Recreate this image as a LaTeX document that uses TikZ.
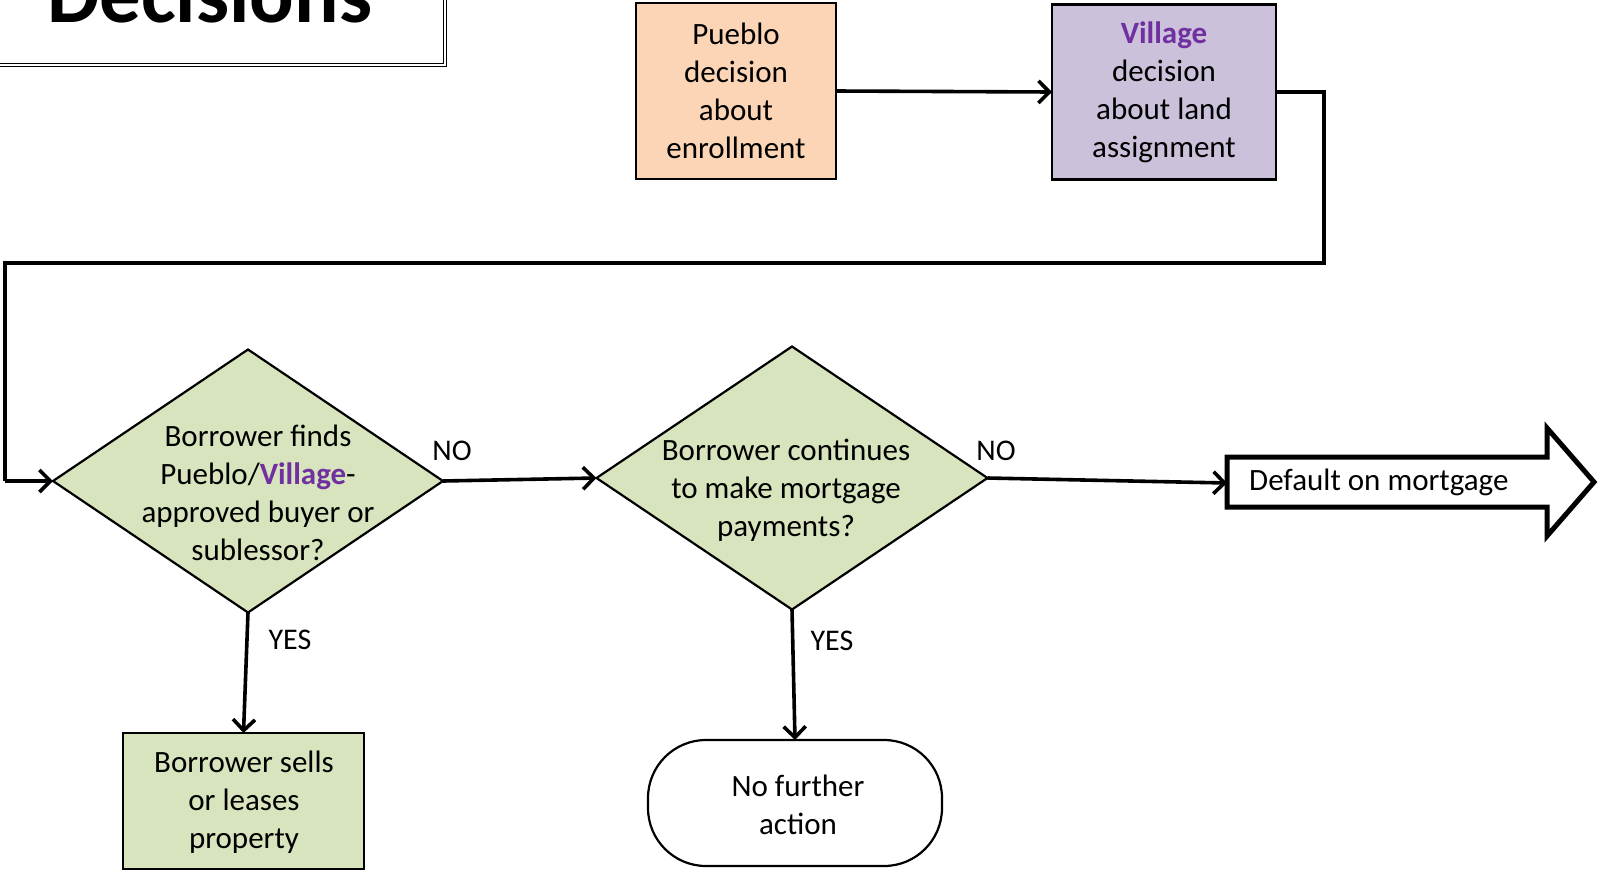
\documentclass[tikz,border=0pt]{standalone}
\usepackage{fontspec}
\setmainfont{Carlito}
\usetikzlibrary{arrows.meta,shapes.geometric}
\definecolor{peach}{HTML}{FBD5B5}
\definecolor{lav}{HTML}{CCC1DA}
\definecolor{lgreen}{HTML}{D7E4BD}
\definecolor{vpurple}{HTML}{7030A0}
\newcommand{\vil}{\textcolor{vpurple}{\textbf{Village}}}
\begin{document}
\begin{tikzpicture}[x=1pt,y=-1pt,
  txt/.style={font=\fontsize{31}{38}\selectfont, align=center, inner sep=0pt},
  lbl/.style={font=\fontsize{30}{36}\selectfont, inner sep=0pt},
  boxnode/.style={draw=black, line width=2.2pt, inner sep=0pt, outer sep=0pt},
  dia/.style={diamond, draw=black, line width=2.2pt, fill=lgreen, inner sep=0pt, outer sep=0pt},
  arr/.style={line width=3.6pt, -{Straight Barb[length=11pt,width=22pt]}},
  conn/.style={line width=3.6pt}]
\useasboundingbox (0,0) rectangle (1600,871);
% title box
\draw[line width=1.2pt, double, double distance=2.5pt] (-20,-20) rectangle (445,65);
\node[anchor=base west, inner sep=0pt, font=\fontsize{83}{90}\selectfont\bfseries] (title) at (47,22) {Decisions};
% top boxes
\node[boxnode, fill=peach, minimum width=200pt, minimum height=176pt] (p) at (736,91) {};
\node[txt] (pt) at (736,91) {Pueblo\\decision\\about\\enrollment};
\node[boxnode, fill=lav, minimum width=224pt, minimum height=175pt] (v) at (1164,92) {};
\node[txt] (vt) at (1164,92) {\vil\\decision\\about land\\assignment};
% diamonds
\node[dia, minimum width=390pt, minimum height=263pt] (d1) at (248,481) {};
\node[txt] (d1t) at (258,493) {Borrower finds\\Pueblo/\vil-\\approved buyer or\\sublessor?};
\node[dia, minimum width=391pt, minimum height=263pt] (d2) at (792,478) {};
\node[txt] (d2t) at (786,490) {Borrower continues\\to make mortgage\\payments?};
% bottom boxes
\node[boxnode, fill=lgreen, minimum width=241pt, minimum height=136pt] (s) at (243.5,801) {};
\node[txt] (st) at (244,802) {Borrower sells\\or leases\\property};
\node[boxnode, fill=white, minimum width=294pt, minimum height=126pt, rounded corners=58pt] (n) at (795,803) {};
\node[txt] (nt) at (798,805) {No further\\action};
% default arrow shape
\draw[line width=5pt, line join=miter, fill=white] (1227,457) -- (1547,457) -- (1547,428) -- (1594,482) -- (1547,536) -- (1547,507) -- (1227,507) -- cycle;
\coordinate (dft) at (1227,483);
\node[txt, anchor=west] (dt) at (1249,482) {Default on mortgage};
% connectors
\draw[arr] (p.east) -- (v.west);
\coordinate (c1) at (1324,263);
\coordinate (c2) at (5,263);
\draw[conn, line join=miter] (v.east) -- (v.east -| c1) -- (c1) -- (c2) -- (c2 |- d1.west);
\draw[arr] (c2 |- d1.west) -- (d1.west);
\draw[arr] (d1.east) -- (d2.west);
\draw[arr] (d2.east) -- (dft);
\draw[arr] (d1.south) -- (s.north);
\draw[arr] (d2.south) -- (n.north);
% labels
\node[lbl] (no1) at (452,451) {NO};
\node[lbl] (no2) at (996,451) {NO};
\node[lbl] (yes1) at (290,640) {YES};
\node[lbl] (yes2) at (832,641) {YES};
\end{tikzpicture}
\end{document}
